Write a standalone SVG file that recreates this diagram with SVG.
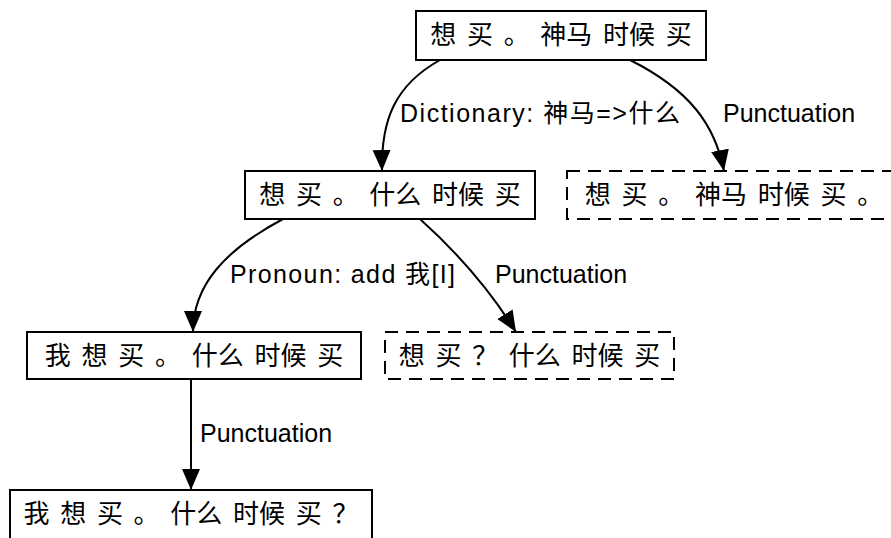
<svg xmlns="http://www.w3.org/2000/svg" width="891" height="538" viewBox="0 0 891 538">
<style>
.box{fill:#fff;stroke:#000;stroke-width:2}
.dash{stroke-dasharray:13,8}
.nt{font-family:"Liberation Sans","Noto Sans CJK SC",sans-serif;font-size:26px;fill:#000;text-anchor:middle;word-spacing:3.5px}
.lt{font-family:"Liberation Sans","Noto Sans CJK SC",sans-serif;font-size:25px;fill:#000}
.edge{fill:none;stroke:#000;stroke-width:2;marker-end:url(#arr)}
</style>
<defs>
<marker id="arr" markerUnits="userSpaceOnUse" viewBox="0 0 22 20" markerWidth="22" markerHeight="20" refX="21" refY="10" orient="auto">
<path d="M0,1 L21,10 L0,19 z" fill="#000"/>
</marker>
</defs>
<rect width="891" height="538" fill="#fff"/>
<g id="connectors">
<path class="edge" d="M440,60 C395,85 381,120 382,171"/>
<path class="edge" d="M630,60 C690,90 715,125 724,171"/>
<path class="edge" d="M283,219 C225,250 193,285 193,332"/>
<path class="edge" d="M420,219 C460,255 490,290 516,332"/>
<path class="edge" d="M191,379 L191,490"/>
<text class="lt" x="400" y="122" textLength="280" lengthAdjust="spacing">Dictionary: 神马=&gt;什么</text>
<text class="lt" x="723" y="122">Punctuation</text>
<text class="lt" x="230" y="283" textLength="225" lengthAdjust="spacing">Pronoun: add 我[I]</text>
<text class="lt" x="495" y="283">Punctuation</text>
<text class="lt" x="200" y="442">Punctuation</text>
</g>
<g id="n0">
<rect class="box" x="416" y="11" width="290" height="49"/>
<text class="nt" x="561" y="44">想 买 。 神马 时候 买</text>
</g>
<g id="n1">
<rect class="box" x="245" y="171" width="290" height="48"/>
<text class="nt" x="390" y="204">想 买 。 什么 时候 买</text>
</g>
<g id="n2">
<rect class="box dash" x="567" y="171" width="334" height="48"/>
<text class="nt" x="734" y="204">想 买 。 神马 时候 买 。</text>
</g>
<g id="n3">
<rect class="box" x="27" y="332" width="334" height="47"/>
<text class="nt" x="194" y="365">我 想 买 。 什么 时候 买</text>
</g>
<g id="n4">
<rect class="box dash" x="385" y="332" width="289" height="47"/>
<text class="nt" x="529.5" y="365">想 买 ？ 什么 时候 买</text>
</g>
<g id="n5">
<rect class="box" x="10" y="490" width="362" height="60"/>
<text class="nt" x="191" y="523">我 想 买 。 什么 时候 买 ？</text>
</g>
</svg>
